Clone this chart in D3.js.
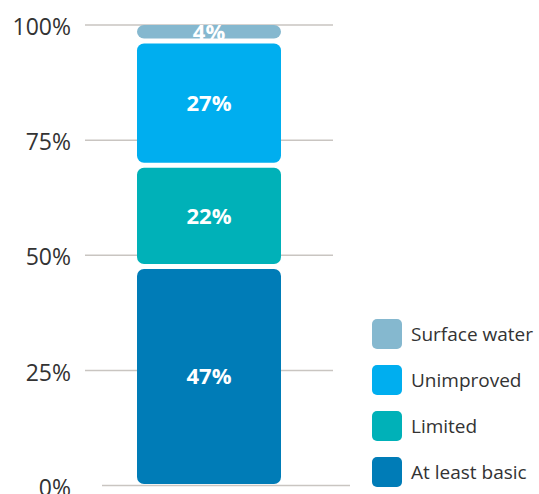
<!DOCTYPE html>
<html>
<head>
<meta charset="utf-8">
<script src="https://cdn.jsdelivr.net/npm/d3@7"></script>
<style>
  body { margin: 0; background: #fff; }
  svg { display: block; font-family: "Open Sans", "Noto Sans", sans-serif; }
</style>
</head>
<body>
<div id="chart"></div>
<script>
// stacked shares, bottom to top
const categories = ["At least basic", "Limited", "Unimproved", "Surface water"];
const values = [47, 22, 27, 4];
const colors = ["#007cb7", "#00b1b8", "#00aeef", "#85b8cf"];
const ticks = [0, 25, 50, 75, 100];

const width = 539, height = 494;

const svg = d3.select("#chart")
  .append("svg")
  .attr("width", width)
  .attr("height", height);

const y = d3.scaleLinear().domain([0, 100]).range([485.5, 25]);
const x = d3.scaleBand().domain(["bar"]).range([137, 281]).padding(0);

// gridlines (the zero line is drawn as its own baseline)
svg.append("g")
  .selectAll("line")
  .data(ticks.filter(d => d > 0))
  .join("line")
  .attr("x1", 85)
  .attr("x2", 333)
  .attr("y1", d => y(d))
  .attr("y2", d => y(d))
  .style("stroke", "#c9c5c1")
  .style("stroke-width", 1.5);

svg.append("line")
  .attr("x1", 102)
  .attr("x2", 350)
  .attr("y1", y(0))
  .attr("y2", y(0))
  .style("stroke", "#c9c5c1")
  .style("stroke-width", 1.5);

const yaxis = d3.axisLeft(y)
  .tickValues(ticks)
  .tickSize(0)
  .tickPadding(0)
  .tickFormat(d => d + "%");

svg.append("g")
  .attr("class", "y-axis")
  .attr("transform", "translate(71,0)")
  .call(yaxis)
  .call(g => g.select(".domain").remove())
  .selectAll("text")
  .attr("dy", "0.42em")
  .style("font-size", "23px")
  .style("font-family", "'Open Sans', sans-serif")
  .style("fill", "#333");

// stack the segments
const stacked = [];
let acc = 0;
values.forEach((v, i) => {
  stacked.push({ name: categories[i], value: v, y0: acc, y1: acc + v, color: colors[i] });
  acc += v;
});

// white gap under each segment, thinner at the baseline
const gapFor = d => (d.y0 === 0 ? 1.5 : 5);

const seg = svg.append("g")
  .selectAll("g")
  .data(stacked)
  .join("g");

seg.append("rect")
  .attr("x", x("bar"))
  .attr("width", x.bandwidth())
  .attr("y", d => y(d.y1))
  .attr("height", d => Math.max(0, y(d.y0) - y(d.y1) - gapFor(d)))
  .attr("rx", 7)
  .style("fill", d => d.color);

seg.append("text")
  .attr("x", x("bar") + x.bandwidth() / 2)
  .attr("y", d => (y(d.y0) - gapFor(d) + y(d.y1)) / 2)
  .attr("dy", "0.36em")
  .attr("text-anchor", "middle")
  .style("fill", "#fff")
  .style("font-weight", "bold")
  .style("font-size", "22px")
  .text(d => d.value + "%");

// legend, top entry is the top segment
const legendData = stacked.slice().reverse();
const legend = svg.append("g")
  .selectAll("g")
  .data(legendData)
  .join("g")
  .attr("transform", (d, i) => `translate(372, ${319 + i * 46})`);

legend.append("rect")
  .attr("width", 30)
  .attr("height", 30)
  .attr("rx", 5)
  .style("fill", d => d.color);

legend.append("text")
  .attr("x", 39)
  .attr("y", 15)
  .attr("dy", "0.36em")
  .style("font-size", "19px")
  .style("fill", "#333")
  .text(d => d.name);
</script>
</body>
</html>
